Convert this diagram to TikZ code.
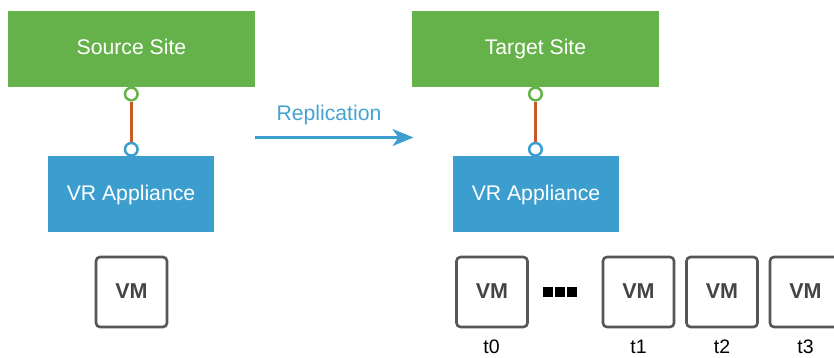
\documentclass[tikz,border=0pt]{standalone}
\usepackage{fontspec}
\setmainfont{Liberation Sans}
\usetikzlibrary{arrows.meta}
\definecolor{sitegreen}{HTML}{66B24A}
\definecolor{vrblue}{HTML}{3B9ECF}
\definecolor{linkorange}{HTML}{C9592B}
\definecolor{vmgray}{HTML}{565656}
\definecolor{vmtext}{HTML}{444444}
\tikzset{
  sitebox/.style={fill=sitegreen,text=white,text height=15pt,text depth=3pt,minimum width=247pt,minimum height=76pt,inner sep=0pt,font=\fontsize{21.2}{24}\selectfont},
  vrbox/.style={fill=vrblue,text=white,text height=15pt,text depth=2pt,minimum width=166pt,minimum height=76pt,inner sep=0pt,font=\fontsize{21.2}{24}\selectfont},
  vmbox/.style={draw=vmgray,line width=2.6pt,rounded corners=4pt,fill=white,text=vmtext,text height=15pt,text depth=2.4pt,minimum width=71pt,minimum height=70pt,inner sep=0pt,font=\fontsize{21.5}{24}\selectfont\bfseries},
  port/.style={circle,fill=white,line width=2.5pt,minimum size=12.6pt,inner sep=0pt},
  link/.style={draw=linkorange,line width=2.6pt},
  timelabel/.style={text=black,inner sep=0pt,font=\fontsize{19.5}{22}\selectfont},
  dotbox/.style={fill=black,minimum width=10.5pt,minimum height=10pt,inner sep=0pt}
}
\begin{document}
\begin{tikzpicture}[x=1pt,y=-1pt]
\useasboundingbox (0,0) rectangle (834,358);
\clip (0,0) rectangle (834,358);
\node[sitebox] (source) at (131.5,49) {Source Site};
\node[sitebox] (target) at (535.5,49) {Target Site};
\node[vrbox] (vrsrc) at (131,194) {VR Appliance};
\node[vrbox] (vrtgt) at (536,194) {VR Appliance};
\node[port,draw=sitegreen] (p1) at (131.3,94) {};
\node[port,draw=vrblue] (p2) at (131.3,149.3) {};
\node[port,draw=sitegreen] (p3) at (535.5,94) {};
\node[port,draw=vrblue] (p4) at (535.5,149.3) {};
\draw[link] (p1) -- (p2);
\draw[link] (p3) -- (p4);
\coordinate (arrowstart) at (255,137.5);
\coordinate (arrowend) at (413.5,137.5);
\draw[vrblue,line width=2.4pt,-{Stealth[length=21pt,width=17pt,inset=6pt]}] (arrowstart) -- (arrowend);
\node[text=vrblue!95!white,inner sep=0pt,font=\fontsize{21.2}{24}\selectfont] (rep) at (329,115) {Replication};
\node[vmbox] (vm) at (131.5,292) {VM};
\node[vmbox] (vm0) at (492,292) {VM};
\node[vmbox] (vm1) at (638.5,292) {VM};
\node[vmbox] (vm2) at (722,292) {VM};
\node[vmbox] (vm3) at (805.5,292) {VM};
\node[dotbox] (d1) at (548.2,291.7) {};
\node[dotbox] (d2) at (560,291.7) {};
\node[dotbox] (d3) at (571.8,291.7) {};
\node[timelabel] (t0) at (491.5,347) {t0};
\node[timelabel] (t1) at (638.5,347) {t1};
\node[timelabel] (t2) at (722,347) {t2};
\node[timelabel] (t3) at (805.5,347) {t3};
\end{tikzpicture}
\end{document}
